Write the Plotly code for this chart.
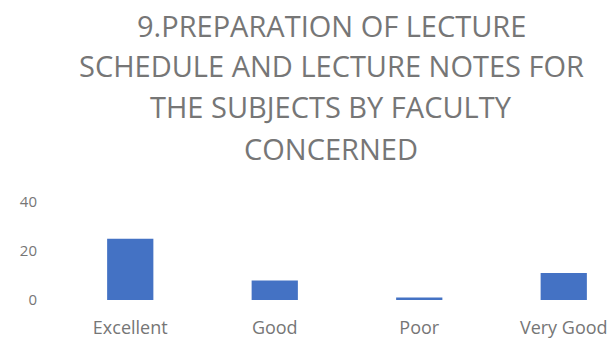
import plotly.graph_objects as go

# Survey responses for item 9
categories = ["Excellent", "Good", "Poor", "Very Good"]
counts = [25, 8, 1, 11]
y_ticks = [0, 20, 40]

title_lines = [
    "9.PREPARATION OF LECTURE",
    "SCHEDULE AND LECTURE NOTES FOR",
    "THE SUBJECTS BY FACULTY",
    "CONCERNED",
]

BAR_BLUE = "#4472C4"
TEXT_GREY = "#767676"
FONT = "Open Sans"

W, H = 611, 342
M_L, M_R, M_T, M_B = 58, 0, 202, 42
plot_w = W - M_L - M_R
plot_h = H - M_T - M_B

fig = go.Figure(
    go.Bar(
        x=categories,
        y=counts,
        marker=dict(color=BAR_BLUE, line=dict(width=0)),
        width=0.32,
    )
)

# Title drawn line by line so the line spacing can be set freely
title_centre_x = 331
line_centres_y = [26, 66, 107, 148]
for text, ypx in zip(title_lines, line_centres_y):
    fig.add_annotation(
        text=text,
        xref="paper",
        yref="paper",
        x=(title_centre_x - M_L) / plot_w,
        y=(H - M_B - ypx) / plot_h,
        xanchor="center",
        yanchor="middle",
        showarrow=False,
        font=dict(family=FONT, size=29, color=TEXT_GREY),
    )

fig.update_layout(
    width=W,
    height=H,
    margin=dict(l=M_L, r=M_R, t=M_T, b=M_B),
    paper_bgcolor="white",
    plot_bgcolor="white",
    showlegend=False,
    font=dict(family=FONT, color=TEXT_GREY),
)

fig.update_xaxes(
    range=[-0.5, 3.327],
    showline=False,
    showgrid=False,
    zeroline=False,
    ticks="",
    ticklabelstandoff=15,
    tickfont=dict(family=FONT, size=18, color=TEXT_GREY),
)

fig.update_yaxes(
    range=[0, 40],
    tickvals=y_ticks,
    showline=False,
    showgrid=False,
    zeroline=False,
    ticks="",
    ticklabelstandoff=20,
    tickfont=dict(family=FONT, size=15, color=TEXT_GREY),
)

fig.write_html("out.html")
